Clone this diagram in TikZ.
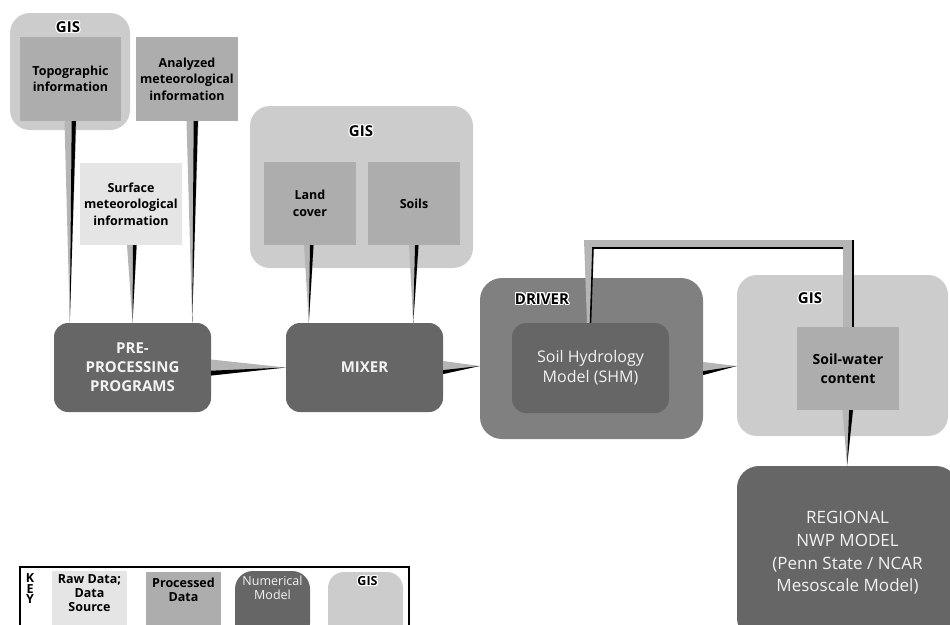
\documentclass[tikz,border=0pt]{standalone}
\usepackage{fontspec}
\setmainfont{Open Sans}
\usepackage[copies]{contour}
\contourlength{1.2pt}
\usetikzlibrary{calc}

\definecolor{rawgray}{gray}{0.90}
\definecolor{procgray}{gray}{0.68}
\definecolor{gisgray}{gray}{0.80}
\definecolor{modelgray}{gray}{0.40}
\definecolor{drivergray}{gray}{0.50}
\definecolor{pipegray}{gray}{0.71}
\definecolor{lighttext}{gray}{0.95}

% wedge-shaped flows: wide end at the source, tip at the target
\newcommand{\feedDown}[3]{%
  \fill[pipegray] ($#2+(-#1,0)$) -- ($#2+(#1,0)$) -- #3 -- cycle;
  \fill[black] ($#2+(0.2*#1,0)$) -- ($#2+(0.9*#1,0)$) -- #3 -- cycle;}
\newcommand{\feedRight}[3]{%
  \fill[pipegray] ($#2+(0,-#1)$) -- ($#2+(0,#1)$) -- #3 -- cycle;
  \fill[black] ($#2+(0,0.4*#1)$) -- ($#2+(0,#1)$) -- #3 -- cycle;}

\begin{document}
\begin{tikzpicture}[x=1pt, y=-1pt,
  raw/.style={fill=rawgray, inner sep=0pt, align=center, font=\fontsize{12.5}{16.5}\selectfont\bfseries},
  proc/.style={fill=procgray, inner sep=0pt, align=center, font=\fontsize{12.5}{16.5}\selectfont\bfseries},
  model/.style={fill=modelgray, rounded corners=14pt, inner sep=0pt, align=center, text=lighttext},
  gis/.style={fill=gisgray, rounded corners=20pt, inner sep=0pt},
  tag/.style={inner sep=0pt, font=\fontsize{15}{16}\selectfont\bfseries},
  keytext/.style={inner sep=0pt, align=center, font=\fontsize{12.5}{14}\selectfont\bfseries}]

	\useasboundingbox (0,0) rectangle (950,624);
	\clip (0,0) rectangle (950,624);

	% containers
	\node[gis, minimum width=120pt, minimum height=117pt] (gisA) at (70,71.5) {};
	\node[gis, minimum width=223pt, minimum height=162pt] (gisB) at (361.5,187) {};
	\node[fill=drivergray, rounded corners=22pt, minimum width=223pt, minimum height=161pt] (driver) at (591.5,358.5) {};
	\node[gis, minimum width=211pt, minimum height=161pt] (gisC) at (842.5,355.5) {};

	\node[tag] at (68,28) {\contour{white}{GIS}};
	\node[tag] at (361,132) {\contour{white}{GIS}};
	\node[tag] at (810,299) {\contour{white}{GIS}};
	\node[tag] at (542,299.5) {\contour{white}{DRIVER}};

	% data boxes
	\node[proc, minimum width=101pt, minimum height=84pt] (topo) at (70.5,79) {Topographic\\information};
	\node[proc, minimum width=102pt, minimum height=84pt] (anal) at (187,79) {Analyzed\\meteorological\\information};
	\node[raw, minimum width=102pt, minimum height=82pt] (surf) at (131,204) {Surface\\meteorological\\information};
	\node[proc, minimum width=92pt, minimum height=83pt] (land) at (310,203.5) {Land\\cover};
	\node[proc, minimum width=92pt, minimum height=83pt] (soils) at (414,203.5) {Soils};
	\node[proc, minimum width=102pt, minimum height=83pt, font=\fontsize{14}{19.5}\selectfont\bfseries] (swc) at (848,368.5) {Soil-water\\content};

	% models
	\node[model, minimum width=157pt, minimum height=89pt, font=\fontsize{15}{19}\selectfont\bfseries] (pre) at (132.5,367.5) {PRE-\\PROCESSING\\PROGRAMS};
	\node[model, minimum width=157pt, minimum height=89pt, font=\fontsize{15}{19}\selectfont\bfseries] (mixer) at (364.5,367.5) {MIXER};
	\node[model, minimum width=157pt, minimum height=90pt, font=\fontsize{16}{20}\selectfont] (shm) at (590.5,368) {Soil Hydrology\\Model (SHM)};
	\node[model, rounded corners=22pt, minimum width=221pt, minimum height=174pt, font=\fontsize{17}{22.7}\selectfont] (nwp) at (847.5,553) {REGIONAL\\NWP MODEL\\(Penn State / NCAR\\Mesoscale Model)};

	% flows
	\coordinate (analOut) at ($(anal.south)+(5.5,0)$);
	\coordinate (surfOut) at ($(surf.south)+(1,0)$);
	\coordinate (landOut) at ($(land.south)+(-1,0)$);
	\feedDown{6}{(topo.south)}{($(pre.north west)+(16,0)$)}
	\feedDown{6}{(analOut)}{($(pre.north east)+(-19,0)$)}
	\feedDown{5}{(surfOut)}{(pre.north)}
	\feedDown{5}{(landOut)}{($(mixer.north west)+(23,0)$)}
	\feedDown{5}{(soils.south)}{($(mixer.north east)+(-30,0)$)}
	\feedDown{5.5}{(swc.south)}{($(nwp.north)+(-0.5,0)$)}
	\feedRight{8}{(pre.east)}{(mixer.west)}
	\feedRight{6.5}{(mixer.east)}{($(driver.west)+(0,7.5)$)}
	\coordinate (drvOut) at ($(driver.east)+(0,10)$);
	\feedRight{6.5}{(drvOut)}{($(gisC.west)+(0,10.5)$)}

	% return flow from soil-water content to the model
	\coordinate (fb) at (0,240);
	\fill[pipegray] ($(shm.north)+(-3.5,0)$) -- ($(shm.north |- fb)+(-6.5,0)$) -- ($(swc.north |- fb)+(6,0)$)
		-- ($(swc.north)+(6,0)$) -- ($(swc.north)+(-5,0)$) -- ($(swc.north |- fb)+(-5,9)$)
		-- ($(shm.north |- fb)+(2.5,8)$) -- ($(shm.north)+(0.5,0)$) -- cycle;
	\draw[line width=1.6pt] (shm.north) -- ($(shm.north |- fb)+(2.5,8)$) -- ($(swc.north |- fb)+(-5,8)$);
	\draw[line width=1.6pt] ($(swc.north |- fb)+(5,0)$) -- ($(swc.north)+(5,0)$);

	% key
	\node[draw, line width=1.2pt, minimum width=389pt, minimum height=80pt, inner sep=0pt] (key) at (214.5,607) {};
	\node[align=center, inner sep=0pt, font=\fontsize{12.5}{10.5}\selectfont\bfseries] (keyword) at (30,589) {K\\E\\Y};
	\node[fill=rawgray, minimum width=75pt, minimum height=70pt, inner sep=0pt] (keyraw) at (89.5,606) {};
	\node[fill=procgray, minimum width=75pt, minimum height=70pt, inner sep=0pt] (keyproc) at (183.5,607) {};
	\node[fill=modelgray, rounded corners=18pt, minimum width=75pt, minimum height=70pt, inner sep=0pt] (keymodel) at (272.5,606) {};
	\node[fill=gisgray, rounded corners=16pt, minimum width=75pt, minimum height=70pt, inner sep=0pt] (keygis) at (365.5,607) {};
	\node[keytext] at ($(keyraw.north)+(0,22)$) {Raw Data;\\Data\\Source};
	\node[keytext] at ($(keyproc.north)+(0,18)$) {Processed\\Data};
	\node[keytext, font=\fontsize{12.5}{14}\selectfont, text=lighttext] at ($(keymodel.north)+(0,17)$) {Numerical\\Model};
	\node[keytext] at ($(keygis.north)+(2,10)$) {\contour{white}{GIS}};
\end{tikzpicture}
\end{document}
